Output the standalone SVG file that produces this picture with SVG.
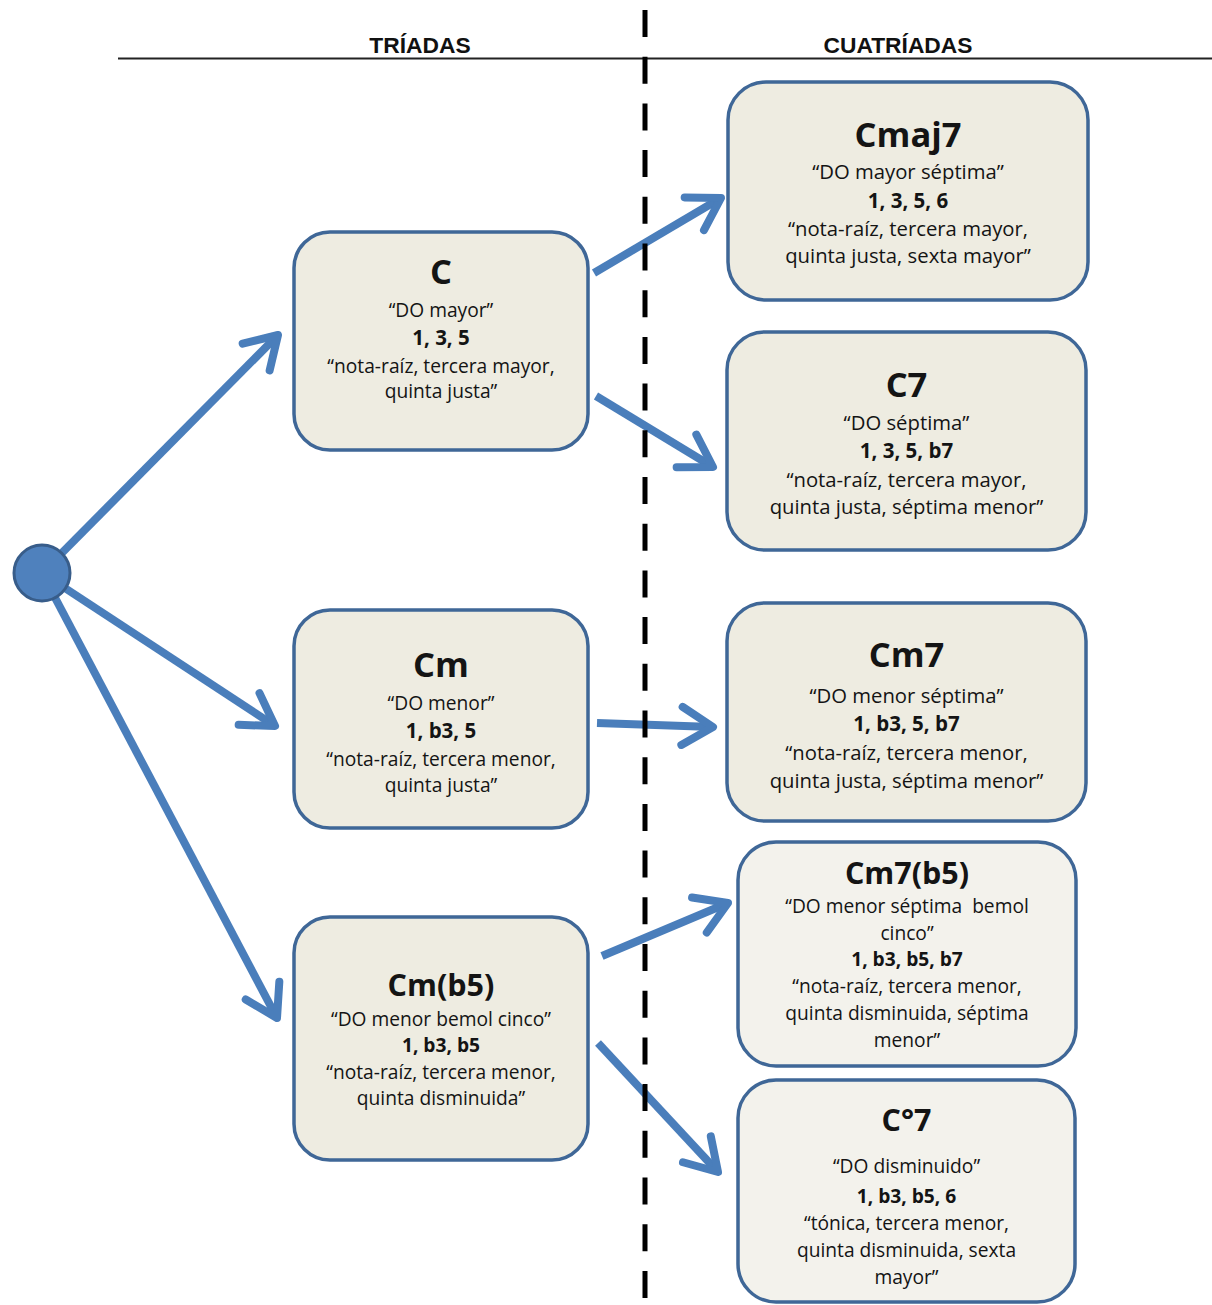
<svg xmlns="http://www.w3.org/2000/svg" width="1212" height="1305" viewBox="0 0 1212 1305">
<style>
.box{fill:#eeece1;stroke:#3f6797;stroke-width:3.5}
.light{fill:#f3f2ec}
.t{font-family:"Open Sans","DejaVu Sans",sans-serif;fill:#141414;text-anchor:middle}
.title{font-weight:700;font-size:34.5px}
.title2{font-weight:700;font-size:30.5px}
.body{font-size:20.3px}
.bodyS{font-size:19.2px}
.num{font-weight:700;font-size:20.5px}
.numS{font-weight:700;font-size:19.2px}
.hdr{font-family:"Liberation Sans",Arial,sans-serif;font-weight:700;font-size:22.8px;fill:#111;text-anchor:middle}
.conn{stroke:#4a7ebb;stroke-width:8;fill:none;marker-end:url(#ah)}
</style>
<defs>
<marker id="ah" markerUnits="userSpaceOnUse" viewBox="-40 -30 50 60" refX="0" refY="0" markerWidth="50" markerHeight="60" orient="auto">
<path d="M-31,-19 L0,0 L-31,19" fill="none" stroke="#4a7ebb" stroke-width="8" stroke-linecap="round" stroke-linejoin="round"/>
</marker>
</defs>
<rect width="1212" height="1305" fill="#ffffff"/>
<g id="header">
<text class="hdr" x="420" y="53">TRÍADAS</text>
<text class="hdr" x="898" y="53">CUATRÍADAS</text>
<line x1="118" y1="58.5" x2="1212" y2="58.5" stroke="#222" stroke-width="2"/>
</g>
<g id="connectors">
<line class="conn" x1="42" y1="573" x2="278" y2="335"/>
<line class="conn" x1="42" y1="573" x2="275" y2="726"/>
<line class="conn" x1="42" y1="573" x2="277" y2="1018"/>
<line class="conn" x1="594" y1="273" x2="721" y2="198"/>
<line class="conn" x1="596" y1="396" x2="713" y2="467"/>
<line class="conn" x1="597" y1="723" x2="713" y2="727"/>
<line class="conn" x1="602" y1="956" x2="728" y2="903"/>
<line class="conn" x1="598" y1="1043" x2="718" y2="1172"/>
</g>
<line id="divider" x1="645" y1="10" x2="645" y2="1305" stroke="#000" stroke-width="5" stroke-dasharray="27 19.7"/>
<g id="start">
<circle cx="42" cy="573" r="28" fill="#4f81bd" stroke="#385d8a" stroke-width="3"/>
</g>
<g id="node-C">
<rect class="box" x="294" y="232" width="294" height="218" rx="36"/>
<text class="t title" x="441" y="284">C</text>
<text class="t bodyS" x="441" y="317">“DO mayor”</text>
<text class="t num" x="441" y="345">1, 3, 5</text>
<text class="t bodyS" x="441" y="373">“nota-raíz, tercera mayor,</text>
<text class="t bodyS" x="441" y="398">quinta justa”</text>
</g>
<g id="node-Cm">
<rect class="box" x="294" y="610" width="294" height="218" rx="36"/>
<text class="t title" x="441" y="677">Cm</text>
<text class="t bodyS" x="441" y="710">“DO menor”</text>
<text class="t num" x="441" y="738">1, b3, 5</text>
<text class="t bodyS" x="441" y="766">“nota-raíz, tercera menor,</text>
<text class="t bodyS" x="441" y="792">quinta justa”</text>
</g>
<g id="node-Cmb5">
<rect class="box" x="294" y="917" width="294" height="243" rx="36"/>
<text class="t title2" x="441" y="996">Cm(b5)</text>
<text class="t bodyS" x="441" y="1026">“DO menor bemol cinco”</text>
<text class="t numS" x="441" y="1052">1, b3, b5</text>
<text class="t bodyS" x="441" y="1079">“nota-raíz, tercera menor,</text>
<text class="t bodyS" x="441" y="1105">quinta disminuida”</text>
</g>
<g id="node-Cmaj7">
<rect class="box" x="728" y="82" width="360" height="218" rx="38"/>
<text class="t title" x="908" y="147">Cmaj7</text>
<text class="t body" x="908" y="179">“DO mayor séptima”</text>
<text class="t num" x="908" y="208">1, 3, 5, 6</text>
<text class="t body" x="908" y="236">“nota-raíz, tercera mayor,</text>
<text class="t body" x="908" y="263">quinta justa, sexta mayor”</text>
</g>
<g id="node-C7">
<rect class="box" x="727" y="332" width="359" height="218" rx="38"/>
<text class="t title" x="906.5" y="397">C7</text>
<text class="t body" x="906.5" y="430">“DO séptima”</text>
<text class="t num" x="906.5" y="458">1, 3, 5, b7</text>
<text class="t body" x="906.5" y="487">“nota-raíz, tercera mayor,</text>
<text class="t body" x="906.5" y="514">quinta justa, séptima menor”</text>
</g>
<g id="node-Cm7">
<rect class="box" x="727" y="603" width="359" height="218" rx="38"/>
<text class="t title" x="906.5" y="667">Cm7</text>
<text class="t body" x="906.5" y="703">“DO menor séptima”</text>
<text class="t num" x="906.5" y="731">1, b3, 5, b7</text>
<text class="t body" x="906.5" y="760">“nota-raíz, tercera menor,</text>
<text class="t body" x="906.5" y="788">quinta justa, séptima menor”</text>
</g>
<g id="node-Cm7b5">
<rect class="box light" x="738" y="842" width="338" height="224" rx="38"/>
<text class="t title2" x="907" y="884">Cm7(b5)</text>
<text class="t bodyS" x="907" y="913" style="white-space:pre">“DO menor séptima  bemol</text>
<text class="t bodyS" x="907" y="940">cinco”</text>
<text class="t numS" x="907" y="966">1, b3, b5, b7</text>
<text class="t bodyS" x="907" y="993">“nota-raíz, tercera menor,</text>
<text class="t bodyS" x="907" y="1020">quinta disminuida, séptima</text>
<text class="t bodyS" x="907" y="1047">menor”</text>
</g>
<g id="node-Cdim7">
<rect class="box light" x="738" y="1080" width="337" height="222" rx="38"/>
<text class="t title2" x="906.5" y="1131">C°7</text>
<text class="t bodyS" x="906.5" y="1173">“DO disminuido”</text>
<text class="t numS" x="906.5" y="1203">1, b3, b5, 6</text>
<text class="t bodyS" x="906.5" y="1230">“tónica, tercera menor,</text>
<text class="t bodyS" x="906.5" y="1257">quinta disminuida, sexta</text>
<text class="t bodyS" x="906.5" y="1284">mayor”</text>
</g>
</svg>
